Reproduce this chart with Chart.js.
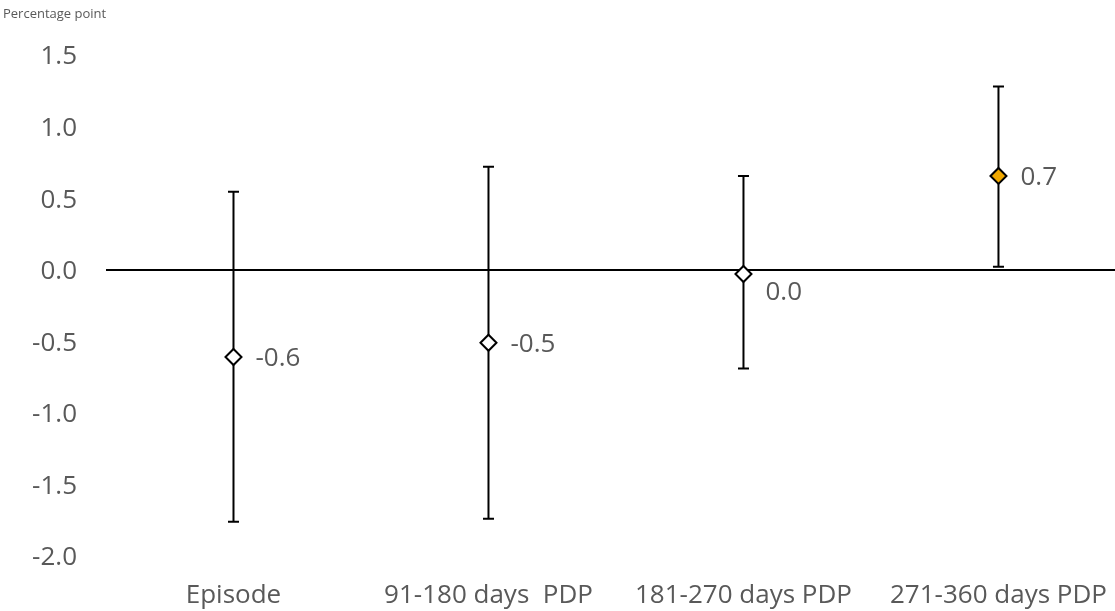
<!DOCTYPE html>
<html>
<head>
<meta charset="utf-8">
<script src="https://cdn.jsdelivr.net/npm/chart.js@4"></script>
<style>
  html, body { margin: 0; padding: 0; background: #fff; overflow: hidden; }
  #wrap { width: 1115px; height: 611px; }
</style>
</head>
<body>
<div id="wrap"><canvas id="myChart" width="1115" height="611"></canvas></div>
<script>
'use strict'

// Data

let categories = ['Episode', '91-180 days  PDP', '181-270 days PDP', '271-360 days PDP'];
let estimates = [-0.61, -0.51, -0.03, 0.655];
let lowerBounds = [-1.76, -1.74, -0.69, 0.02];
let upperBounds = [0.545, 0.72, 0.655, 1.28];
let pointFills = ['#ffffff', '#ffffff', '#ffffff', '#F0A800'];
let yTicks = [1.5, 1.0, 0.5, 0.0, -0.5, -1.0, -1.5, -2.0];

const FONT = '"Open Sans", sans-serif';
const GREY = '#595959';

function fmt(v) {
  return (Math.round(v * 10) / 10 + 0).toFixed(1);
}

// error bars, value labels and the unit label
const extras = {
  id: 'extras',
  beforeDatasetsDraw(chart) {
    let ctx = chart.ctx;
    let x = chart.scales.x;
    let y = chart.scales.y;
    ctx.save();
    ctx.strokeStyle = '#000';
    ctx.lineWidth = 2;
    for (let i = 0; i < categories.length; i++) {
      let px = x.getPixelForValue(i);
      let top = y.getPixelForValue(upperBounds[i]);
      let bot = y.getPixelForValue(lowerBounds[i]);
      ctx.beginPath();
      ctx.moveTo(px, top);
      ctx.lineTo(px, bot);
      ctx.moveTo(px - 5.5, top);
      ctx.lineTo(px + 5.5, top);
      ctx.moveTo(px - 5.5, bot);
      ctx.lineTo(px + 5.5, bot);
      ctx.stroke();
    }
    ctx.restore();
  },
  afterDatasetsDraw(chart) {
    let ctx = chart.ctx;
    let x = chart.scales.x;
    let y = chart.scales.y;
    ctx.save();
    ctx.font = '26px ' + FONT;
    ctx.textBaseline = 'middle';
    ctx.textAlign = 'left';
    for (let i = 0; i < categories.length; i++) {
      let txt = fmt(estimates[i]);
      let px = x.getPixelForValue(i) + 22;
      let py = y.getPixelForValue(estimates[i]) + 2;
      // label sitting on the zero line is pushed below it
      if (Math.abs(estimates[i]) < 0.1) py += 17;
      let w = ctx.measureText(txt).width;
      ctx.fillStyle = '#fff';
      ctx.fillRect(px - 7, py - 22, w + 14, 44);
      ctx.fillStyle = GREY;
      ctx.fillText(txt, px, py);
    }
    ctx.font = '13px ' + FONT;
    ctx.fillStyle = GREY;
    ctx.fillText('Percentage point', 3, 14);
    ctx.restore();
  }
};

const data = {
  datasets: [{
    label: 'Estimate',
    data: categories.map((c, i) => ({ x: i, y: estimates[i] })),
    showLine: false,
    pointStyle: 'rectRot',
    pointRadius: 8,
    pointHoverRadius: 8,
    pointBorderWidth: 2,
    pointBorderColor: '#000',
    pointBackgroundColor: pointFills
  }]
};

const config = {
  type: 'scatter',
  data: data,
  options: {
    responsive: false,
    animation: false,
    layout: {
      autoPadding: false,
      padding: { top: 55, right: 0, bottom: 0, left: 0 }
    },
    plugins: {
      legend: { display: false },
      tooltip: { enabled: false }
    },
    scales: {
      x: {
        type: 'linear',
        // the last slot runs on past the right edge of the picture
        min: -0.5,
        max: 3.457,
        grid: { display: false, drawTicks: false },
        border: { display: false },
        afterBuildTicks(s) {
          s.ticks = categories.map((c, i) => ({ value: i }));
        },
        ticks: {
          color: GREY,
          font: { family: FONT, size: 26 },
          padding: 24,
          maxRotation: 0,
          autoSkip: false,
          callback: (v) => categories[v]
        },
        afterFit(s) {
          s.height = 55;
          s.paddingLeft = 0;
          s.paddingRight = 0;
        }
      },
      y: {
        min: yTicks[yTicks.length - 1],
        max: yTicks[0],
        grid: {
          drawTicks: false,
          color: (c) => c.tick && c.tick.value === 0 ? '#000' : 'rgba(0,0,0,0)',
          lineWidth: (c) => c.tick && c.tick.value === 0 ? 2 : 0
        },
        border: { display: false },
        afterBuildTicks(s) {
          s.ticks = yTicks.map(v => ({ value: v }));
        },
        ticks: {
          color: GREY,
          font: { family: FONT, size: 26 },
          padding: 29,
          labelOffset: 2,
          callback: (v) => Number(v).toFixed(1)
        },
        afterFit(s) { s.width = 106; }
      }
    }
  },
  plugins: [extras]
};

const myChart = new Chart(document.getElementById('myChart'), config);
</script>
</body>
</html>
